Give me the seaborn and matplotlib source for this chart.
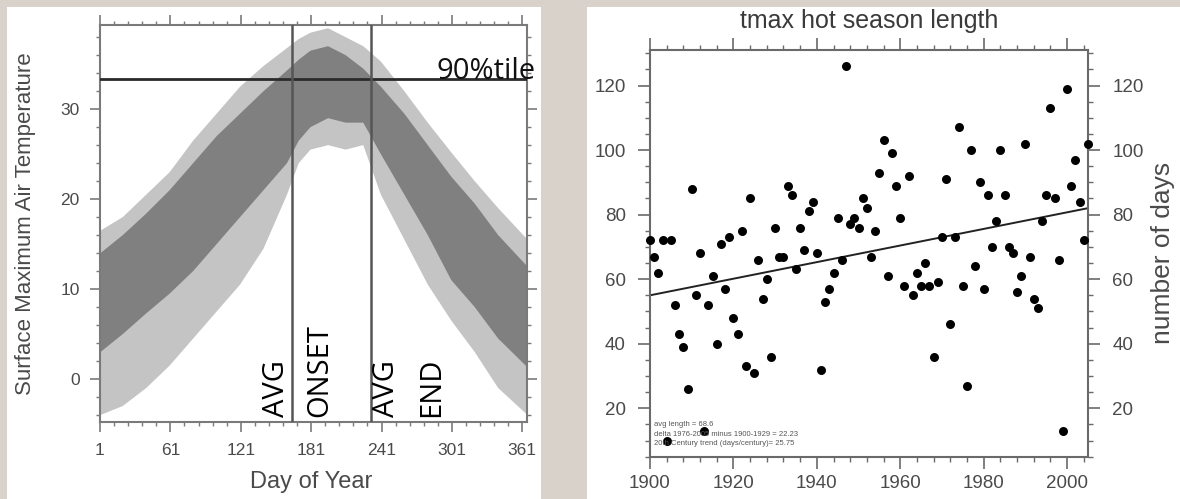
import numpy as np
import matplotlib
matplotlib.use("Agg")
import matplotlib.pyplot as plt
import seaborn as sns
from matplotlib.patches import Rectangle
from matplotlib.ticker import MultipleLocator, FixedLocator

# ---------------- data ----------------
# Left panel: envelope of daily Tmax curves across all years
env_days = [1, 20, 40, 60, 80, 100, 120, 140, 160, 170, 180, 195, 210, 225, 240, 260, 280, 300, 320, 340, 365]
outer_hi = [16.5, 18.0, 20.5, 23.0, 26.5, 29.5, 32.5, 34.8, 36.8, 37.8, 38.5, 39.0, 38.0, 37.0, 35.3, 32.0, 28.5, 25.2, 22.0, 19.0, 15.5]
inner_hi = [14.0, 16.0, 18.4, 21.0, 24.0, 27.0, 29.5, 32.0, 34.3, 35.5, 36.5, 37.0, 36.0, 34.5, 32.5, 29.5, 26.0, 22.5, 19.5, 16.0, 12.5]
inner_lo = [3.0, 5.0, 7.3, 9.5, 12.0, 15.0, 18.0, 21.0, 24.0, 26.5, 28.0, 29.0, 28.5, 28.5, 25.0, 20.5, 16.0, 11.0, 8.0, 4.5, 1.3]
outer_lo = [-4.0, -3.0, -1.0, 1.5, 4.5, 7.5, 10.5, 14.5, 20.5, 24.0, 25.5, 26.0, 25.5, 26.0, 20.5, 15.5, 10.5, 6.5, 3.0, -1.0, -4.0]
onset_day = 165
end_day = 232
p90_value = 33.3
left_xticks = [1, 61, 121, 181, 241, 301, 361]
left_yticks = [0, 10, 20, 30]

# Right panel: hot season length per year
years = list(range(1900, 2006))
season_len = [72, 67, 62, 72, 10, 72, 52, 43, 39, 26,
              88, 55, 68, 13, 52, 61, 40, 71, 57, 73,
              48, 43, 75, 33, 85, 31, 66, 54, 60, 36,
              76, 67, 67, 89, 86, 63, 76, 69, 81, 84,
              68, 32, 53, 57, 62, 79, 66, 126, 77, 79,
              76, 85, 82, 67, 75, 93, 103, 61, 99, 89,
              79, 58, 92, 55, 62, 58, 65, 58, 36, 59,
              73, 91, 46, 73, 107, 58, 27, 100, 64, 90,
              57, 86, 70, 78, 100, 86, 70, 68, 56, 61,
              102, 67, 54, 51, 78, 86, 113, 85, 66, 13,
              119, 89, 97, 84, 72, 102]
trend_years = [1900, 2005]
trend_vals = [55.0, 82.0]
right_xticks = [1900, 1920, 1940, 1960, 1980, 2000]
right_yticks = [20, 40, 60, 80, 100, 120]
notes = ["avg length = 68.6",
         "delta 1976-2005 minus 1900-1929 = 22.23",
         "20th Century trend (days/century)= 25.75"]

# ---------------- style ----------------
sns.set_theme(style="ticks")
plt.rcParams["font.family"] = ["Liberation Sans", "DejaVu Sans"]
plt.rcParams["axes.facecolor"] = "white"

W, H = 1180, 499
fig = plt.figure(figsize=(W / 100, H / 100), dpi=100)
fig.patch.set_facecolor("#d9d2cb")

# white panels behind each chart
fig.add_artist(Rectangle((7 / W, 0), (541 - 7) / W, 1 - 7 / H, transform=fig.transFigure,
                         facecolor="white", edgecolor="none", zorder=0))
fig.add_artist(Rectangle((587 / W, 0), (W - 587) / W, 1 - 7 / H, transform=fig.transFigure,
                         facecolor="white", edgecolor="none", zorder=0))

lab_col = "#4a4a4a"

# ---------------- left panel ----------------
ax1 = fig.add_axes([100 / W, 1 - 421.7 / H, 427 / W, 396.7 / H])
ax1.fill_between(env_days, outer_lo, outer_hi, color="#c4c4c4", linewidth=0, zorder=1)
ax1.fill_between(env_days, inner_lo, inner_hi, color="#808080", linewidth=0, zorder=2)
ax1.axhline(p90_value, color="#2a2a2a", lw=2.0, zorder=4)
ax1.axvline(onset_day, color="#555555", lw=1.8, zorder=4)
ax1.axvline(end_day, color="#555555", lw=1.8, zorder=4)
ax1.set_xlim(1, 365)
ax1.set_ylim(-4.8, 39.3)
ax1.xaxis.set_major_locator(FixedLocator(left_xticks))
ax1.xaxis.set_minor_locator(FixedLocator(list(range(1, 366, 12))))
ax1.yaxis.set_major_locator(FixedLocator(left_yticks))
ax1.yaxis.set_minor_locator(MultipleLocator(2))
ax1.tick_params(which="both", direction="out", top=True, right=True, colors="#7a7a7a",
                labelcolor=lab_col, labelsize=12.5)
ax1.tick_params(which="major", length=7.5, width=1.2)
ax1.tick_params(which="minor", length=3.0, width=1.0)
ax1.tick_params(axis="y", which="major", pad=7)
ax1.tick_params(axis="x", which="major", pad=8)
for s in ax1.spines.values():
    s.set_color("#7a7a7a")
    s.set_linewidth(1.5)
ax1.set_xlabel("Day of Year", fontsize=17, color=lab_col)
ax1.set_ylabel("Surface Maximum Air Temperature", fontsize=16, color=lab_col)
ax1.xaxis.set_label_coords(0.494, -0.152)
ax1.xaxis.label.set_va("center")
ax1.yaxis.set_label_coords(-0.1756, 0.5)
ax1.yaxis.label.set_va("center")

txt_font = ["Open Sans", "DejaVu Sans"]
ax1.text(288, p90_value, "90%tile", fontsize=21, family=txt_font, color="#111111",
         ha="left", va="baseline", zorder=5)
for xd, label in [(151.5, "AVG"), (188, "ONSET"), (245.5, "AVG"), (283.5, "END")]:
    ax1.text(xd, -4.3, label, rotation=90, fontsize=21, family=txt_font, color="black",
             ha="center", va="bottom", zorder=5)

# ---------------- right panel ----------------
ax2 = fig.add_axes([650 / W, 1 - 456.7 / H, 438 / W, 406.7 / H])
sns.lineplot(x=trend_years, y=trend_vals, ax=ax2, color="#222222", lw=1.4, zorder=2)
sns.scatterplot(x=years, y=season_len, ax=ax2, color="black", s=42, edgecolor="black",
                linewidth=0, zorder=3, clip_on=False)
ax2.set_xlim(1900, 2005)
ax2.set_ylim(5, 131)
ax2.xaxis.set_major_locator(FixedLocator(right_xticks))
ax2.xaxis.set_minor_locator(MultipleLocator(4))
ax2.yaxis.set_major_locator(FixedLocator(right_yticks))
ax2.yaxis.set_minor_locator(MultipleLocator(5))
ax2.tick_params(which="both", direction="out", top=True, right=True, labelright=True,
                colors="#6a6a6a", labelcolor=lab_col, labelsize=13.5)
ax2.tick_params(which="major", length=8.5, width=1.2)
ax2.tick_params(which="minor", length=3.5, width=1.0)
ax2.tick_params(axis="y", which="major", pad=9)
ax2.tick_params(axis="x", which="major", pad=5)
for s in ax2.spines.values():
    s.set_color("#6a6a6a")
    s.set_linewidth(1.5)
ax2.set_xlabel("")
ax2.set_ylabel("number of days", fontsize=19, color=lab_col, rotation=90)
ax2.yaxis.set_label_position("right")
ax2.yaxis.set_label_coords(1.171, 0.5)
ax2.yaxis.label.set_va("center")
ax2.text(0.5, 1 + 22 / 406.7, "tmax hot season length", transform=ax2.transAxes,
         fontsize=18, color="#3a3a3a", ha="center", va="baseline")
for i, line in enumerate(notes):
    ax2.text(4 / 438, (456.7 - 425 - i * 9.3) / 406.7, line, transform=ax2.transAxes,
             fontsize=5.5, color="#555555", ha="left", va="center", zorder=4)

fig.savefig("out.png", dpi=100, facecolor=fig.get_facecolor())
